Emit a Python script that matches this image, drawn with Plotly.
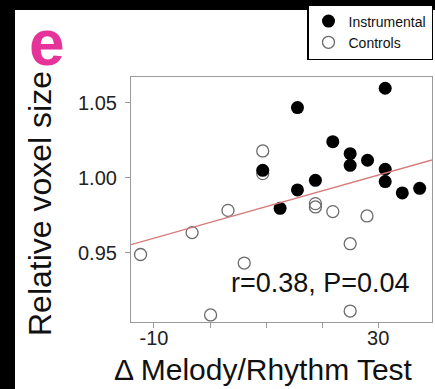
import plotly.graph_objects as go

# ---- data ----
instr_x = [31.25, 15.6, 21.9, 25.0, 25.0, 28.1, 31.25, 31.25, 34.3, 37.4, 18.8, 15.6, 12.5, 9.4]
instr_y = [1.0598, 1.0469, 1.0242, 1.0162, 1.0084, 1.0118, 1.0058, 0.9976, 0.9900, 0.9931, 0.9984, 0.9920, 0.9798, 1.0051]

ctrl_x = [9.4, 9.4, -12.4, -3.2, 3.2, 6.1, 0.1, 18.8, 18.8, 21.9, 25.0, 28.0, 25.0]
ctrl_y = [1.0180, 1.0029, 0.9490, 0.9636, 0.9784, 0.9433, 0.9087, 0.9829, 0.9807, 0.9776, 0.9562, 0.9747, 0.9113]

fit_x = [-14.1, 39.6]
fit_y = [0.9556, 1.0120]

x_tickvals = [-10, 0, 10, 20, 30]
x_ticktext = ["-10", "", "", "", "30"]
y_tickvals = [0.95, 1.00, 1.05]
y_ticktext = ["0.95", "1.00", "1.05"]

stat_text = "r=0.38, P=0.04"
x_title = "Δ Melody/Rhythm Test"
y_title = "Relative voxel size"
panel_label = "e"

FONT = "Liberation Sans, Arial, sans-serif"

fig = go.Figure()
fig.add_trace(go.Scatter(
    x=ctrl_x, y=ctrl_y, mode="markers", name="Controls",
    marker=dict(symbol="circle-open", size=12, color="#6a6a6a", line=dict(width=1.3, color="#6a6a6a")),
))
fig.add_trace(go.Scatter(
    x=instr_x, y=instr_y, mode="markers", name="Instrumental",
    marker=dict(symbol="circle", size=13, color="black", line=dict(width=0)),
))
fig.add_trace(go.Scatter(
    x=fit_x, y=fit_y, mode="lines", showlegend=False,
    line=dict(color="#d77a7a", width=1.3),
))

axis_common = dict(
    showline=True, mirror=True, linecolor="#9a9a9a", linewidth=1.2,
    ticks="outside", ticklen=5, tickcolor="#9a9a9a", tickwidth=1,
    showgrid=False, zeroline=False,
    tickfont=dict(family=FONT, size=20, color="#222"),
)

fig.update_xaxes(range=[-14.1, 39.6], tickvals=x_tickvals, ticktext=x_ticktext,
                 ticklabelstandoff=-7, **axis_common)
fig.update_yaxes(range=[0.904, 1.0673], tickvals=y_tickvals, ticktext=y_ticktext,
                 ticklabelstandoff=4, **axis_common)

W, H = 435, 389
L, R, T, B = 131, 3, 77, 67
pw, ph = W - L - R, H - T - B

def px2paper(px, py):
    return (px - L) / pw, (H - B - py) / ph

# black border strips
fig.add_shape(type="rect", xref="paper", yref="paper",
              x0=px2paper(0, 0)[0], x1=px2paper(15, 0)[0],
              y0=px2paper(0, 389)[1], y1=px2paper(0, 0)[1],
              fillcolor="black", line=dict(width=0), layer="above")
fig.add_shape(type="rect", xref="paper", yref="paper",
              x0=px2paper(0, 0)[0], x1=px2paper(435, 0)[0],
              y0=px2paper(0, 10)[1], y1=px2paper(0, 0)[1],
              fillcolor="black", line=dict(width=0), layer="above")

ax, ay = px2paper(320, 283)
fig.add_annotation(text=stat_text, xref="paper", yref="paper", x=ax, y=ay,
                   xanchor="center", yanchor="middle", showarrow=False,
                   font=dict(family=FONT, size=27, color="#111"))

ax, ay = px2paper(263, 369)
fig.add_annotation(text=x_title, xref="paper", yref="paper", x=ax, y=ay,
                   xanchor="center", yanchor="middle", showarrow=False,
                   font=dict(family=FONT, size=30, color="#111"))

ax, ay = px2paper(40, 204)
fig.add_annotation(text=y_title, xref="paper", yref="paper", x=ax, y=ay,
                   xanchor="center", yanchor="middle", showarrow=False, textangle=-90,
                   font=dict(family=FONT, size=32, color="#111"))

ax, ay = px2paper(46.5, 43.5)
fig.add_annotation(text="<b>" + panel_label + "</b>", xref="paper", yref="paper", x=ax, y=ay,
                   xanchor="center", yanchor="middle", showarrow=False,
                   font=dict(family=FONT, size=64, color="#E6339A"))

lx, ly = px2paper(307, 4)
fig.update_layout(
    width=W, height=H,
    margin=dict(l=L, r=R, t=T, b=B, pad=0, autoexpand=False),
    paper_bgcolor="white", plot_bgcolor="white",
    showlegend=True,
    legend=dict(x=lx, y=ly, xanchor="left", yanchor="top",
                traceorder="reversed", bgcolor="white",
                bordercolor="black", borderwidth=1.5,
                font=dict(family=FONT, size=14, color="#111"),
                tracegroupgap=0, itemwidth=30),
)

fig.write_html("out.html")
